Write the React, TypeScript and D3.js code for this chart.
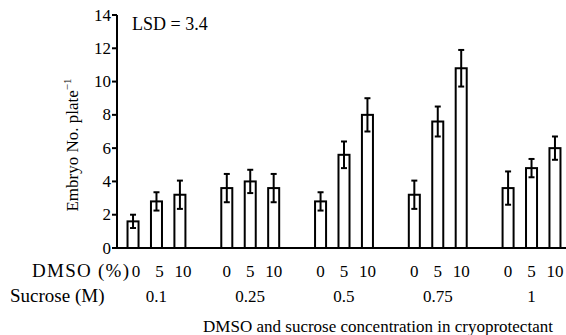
import React from "react";
import * as d3 from "d3";

const sucrose = ["0.1", "0.25", "0.5", "0.75", "1"];
const dmso = ["0", "5", "10"];
const means = [
  [1.6, 2.8, 3.2],
  [3.6, 4.0, 3.6],
  [2.8, 5.6, 8.0],
  [3.2, 7.6, 10.8],
  [3.6, 4.8, 6.0],
];
const errs = [
  [0.4, 0.55, 0.85],
  [0.85, 0.7, 0.85],
  [0.55, 0.8, 1.0],
  [0.85, 0.9, 1.1],
  [1.0, 0.55, 0.7],
];
const yTicks = [0, 2, 4, 6, 8, 10, 12, 14];

const W = 566;
const H = 335;
const FONT = "Liberation Serif";

export default function App() {
  const y = d3.scaleLinear().domain([0, 14]).range([248, 15]);
  const x0 = d3
    .scaleBand<string>()
    .domain(sucrose)
    .range([117, 571])
    .paddingInner(0.25)
    .paddingOuter(0.046);
  const x1 = d3
    .scaleBand<string>()
    .domain(dmso)
    .range([0, x0.bandwidth()])
    .paddingInner(0.53)
    .paddingOuter(0.265);
  const bw = x1.bandwidth();
  const axisX = 117;
  const fs = 17;
  const ts = { fontFamily: FONT, fontSize: fs } as React.CSSProperties;
  const rowStyle = { fontFamily: FONT, fontSize: 19 } as React.CSSProperties;

  return (
    <svg
      width={W}
      height={H}
      style={{ position: "absolute", left: 0, top: 0, background: "#fff", fontFamily: FONT }}
    >
      {sucrose.map((s, gi) => (
        <g key={s} transform={`translate(${x0(s)},0)`}>
          {dmso.map((d, di) => {
            const v = means[gi][di];
            const e = errs[gi][di];
            const bx = x1(d)!;
            const cx = bx + bw / 2;
            return (
              <g key={d}>
                <rect
                  x={bx}
                  y={y(v)}
                  width={bw}
                  height={y(0) - y(v)}
                  fill="#fff"
                  stroke="#000"
                  strokeWidth={2}
                />
                <line x1={cx} x2={cx} y1={y(v + e)} y2={y(v - e)} stroke="#000" strokeWidth={2} />
                <line x1={cx - 3} x2={cx + 3} y1={y(v + e)} y2={y(v + e)} stroke="#000" strokeWidth={2} />
                <line x1={cx - 3} x2={cx + 3} y1={y(v - e)} y2={y(v - e)} stroke="#000" strokeWidth={2} />
                <text x={cx + (gi === 0 ? 3 : 0)} y={277} textAnchor="middle" style={ts}>
                  {d}
                </text>
              </g>
            );
          })}
          <text x={x0.bandwidth() / 2} y={302} textAnchor="middle" style={ts}>
            {s}
          </text>
        </g>
      ))}

      <line x1={axisX} x2={axisX} y1={y(14)} y2={y(0)} stroke="#000" strokeWidth={2} />
      <line x1={axisX - 1} x2={W} y1={y(0)} y2={y(0)} stroke="#000" strokeWidth={2} />
      {yTicks.map((t) => (
        <g key={t}>
          <line x1={axisX - 5} x2={axisX} y1={y(t)} y2={y(t)} stroke="#000" strokeWidth={2} />
          <text x={axisX - 6} y={y(t)} dy="0.33em" textAnchor="end" style={ts}>
            {t}
          </text>
        </g>
      ))}

      <text x={132} y={30} style={{ fontFamily: FONT, fontSize: 18 }}>
        LSD = 3.4
      </text>

      <text transform="translate(78,145) rotate(-90)" textAnchor="middle" style={ts}>
        Embryo No. plate
        <tspan style={{ fontSize: 11 }} dy={-7}>
          −1
        </tspan>
      </text>

      <text x={32} y={277} style={rowStyle} textLength={97} lengthAdjust="spacing">
        DMSO (%)
      </text>
      <text x={10} y={302} style={rowStyle}>
        Sucrose (M)
      </text>
      <text x={378} y={332} textAnchor="middle" style={ts}>
        DMSO and sucrose concentration in cryoprotectant
      </text>
    </svg>
  );
}
